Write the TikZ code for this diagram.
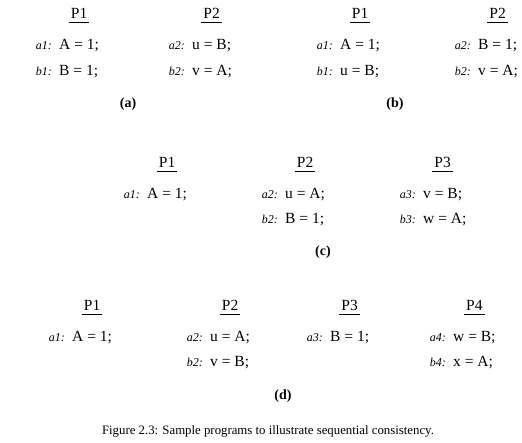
\documentclass[tikz,border=0pt]{standalone}
\usepackage{fontspec}
\setmainfont{Liberation Serif}
\usetikzlibrary{positioning}

\begin{document}
\begin{tikzpicture}[
  x=1pt, y=-1pt,
  stmt/.style={font=\fontsize{15.5}{18}\selectfont, inner sep=0pt, text height=11pt, text depth=3pt, anchor=base west},
  lbl/.style={font=\fontsize{12}{14}\selectfont\itshape, inner sep=0pt},
  head/.style={font=\fontsize{15.5}{18}\selectfont, inner xsep=2pt, inner ysep=4pt, text height=11pt, text depth=0pt},
  uline/.style={line width=0.8pt},
  sub/.style={font=\fontsize{14}{16}\selectfont\bfseries, anchor=base},
  caption/.style={font=\fontsize{12.8}{15}\selectfont, anchor=base}
]
\useasboundingbox (0,0) rectangle (522,442);

% (a)
\node[stmt] (a-a1) at (59,49) {A = 1;};
\node[stmt] (a-b1) at (59,75) {B = 1;};
\node[stmt] (a-a2) at (192,49) {u = B;};
\node[stmt] (a-b2) at (192,75) {v = A;};
\node[lbl, base left=7pt of a-a1] {a1:};
\node[lbl, base left=7pt of a-b1] {b1:};
\node[lbl, base left=7pt of a-a2] {a2:};
\node[lbl, base left=7pt of a-b2] {b2:};
\node[head, above=15.5pt of a-a1] (a-p1) {P1};
\node[head, above=15.5pt of a-a2] (a-p2) {P2};
\node[sub] (a-cap) at (128,107) {(a)};

% (b)
\node[stmt] (b-a1) at (340,49) {A = 1;};
\node[stmt] (b-b1) at (340,75) {u = B;};
\node[stmt] (b-a2) at (478,49) {B = 1;};
\node[stmt] (b-b2) at (478,75) {v = A;};
\node[lbl, base left=7pt of b-a1] {a1:};
\node[lbl, base left=7pt of b-b1] {b1:};
\node[lbl, base left=7pt of b-a2] {a2:};
\node[lbl, base left=7pt of b-b2] {b2:};
\node[head, above=15.5pt of b-a1] (b-p1) {P1};
\node[head, above=15.5pt of b-a2] (b-p2) {P2};
\node[sub] (b-cap) at (395,107) {(b)};

% (c)
\node[stmt] (c-a1) at (147,198) {A = 1;};
\node[stmt] (c-a2) at (285,198) {u = A;};
\node[stmt] (c-b2) at (285,223) {B = 1;};
\node[stmt] (c-a3) at (423,198) {v = B;};
\node[stmt] (c-b3) at (423,223) {w = A;};
\node[lbl, base left=7pt of c-a1] {a1:};
\node[lbl, base left=7pt of c-a2] {a2:};
\node[lbl, base left=7pt of c-b2] {b2:};
\node[lbl, base left=7pt of c-a3] {a3:};
\node[lbl, base left=7pt of c-b3] {b3:};
\node[head, above=15.5pt of c-a1] (c-p1) {P1};
\node[head, above=15.5pt of c-a2] (c-p2) {P2};
\node[head, above=15.5pt of c-a3] (c-p3) {P3};
\node[sub] (c-cap) at (323,255) {(c)};

% (d)
\node[stmt] (d-a1) at (72,341) {A = 1;};
\node[stmt] (d-a2) at (210,341) {u = A;};
\node[stmt] (d-b2) at (210,366) {v = B;};
\node[stmt] (d-a3) at (330,341) {B = 1;};
\node[stmt] (d-a4) at (453,341) {w = B;};
\node[stmt] (d-b4) at (453,366) {x = A;};
\node[lbl, base left=7pt of d-a1] {a1:};
\node[lbl, base left=7pt of d-a2] {a2:};
\node[lbl, base left=7pt of d-b2] {b2:};
\node[lbl, base left=7pt of d-a3] {a3:};
\node[lbl, base left=7pt of d-a4] {a4:};
\node[lbl, base left=7pt of d-b4] {b4:};
\node[head, above=15.5pt of d-a1] (d-p1) {P1};
\node[head, above=15.5pt of d-a2] (d-p2) {P2};
\node[head, above=15.5pt of d-a3] (d-p3) {P3};
\node[head, above=15.5pt of d-a4] (d-p4) {P4};
\node[sub] (d-cap) at (283,399) {(d)};

% Underlines
\foreach \p in {a-p1,a-p2,b-p1,b-p2,c-p1,c-p2,c-p3,d-p1,d-p2,d-p3,d-p4}
  \draw[uline] (\p.south west) -- (\p.south east);

% Caption
\node[caption] (fig-cap) at (268,434) {Figure 2.3: Sample programs to illustrate sequential consistency.};

\end{tikzpicture}
\end{document}
